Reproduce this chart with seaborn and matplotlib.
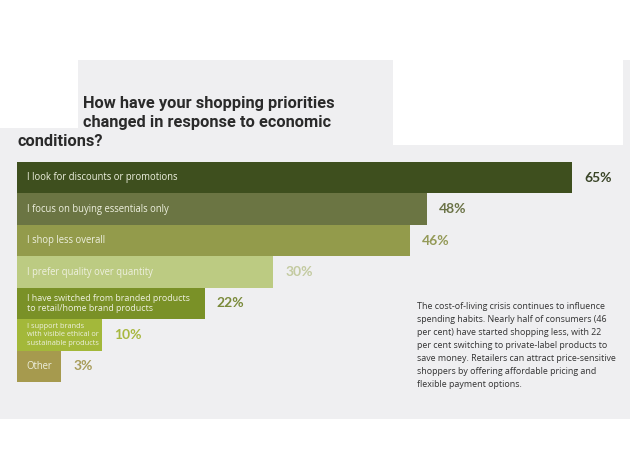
import matplotlib
matplotlib.use('Agg')
import matplotlib.pyplot as plt
import matplotlib.patches as mpatches
import numpy as np
import seaborn as sns

# data
answers = [
    'I look for discounts or promotions',
    'I focus on buying essentials only',
    'I shop less overall',
    'I prefer quality over quantity',
    'I have switched from branded products\nto retail/home brand products',
    'I support brands\nwith visible ethical or\nsustainable products',
    'Other',
]
shares = [65, 48, 46, 30, 22, 10, 3]
bar_colors = ['#3e4f1e', '#6b7543', '#939b4b', '#bccb82', '#7a9127', '#a3b83a', '#a69a4e']
pct_colors = ['#3a4528', '#6b7347', '#949a58', '#c3caa0', '#7a8a3a', '#a8b83f', '#a89c5a']

title_lines = ['How have your shopping priorities', 'changed in response to economic', 'conditions?']
note = ('The cost-of-living crisis continues to influence\n'
        'spending habits. Nearly half of consumers (46\n'
        'per cent) have started shopping less, with 22\n'
        'per cent switching to private-label products to\n'
        'save money. Retailers can attract price-sensitive\n'
        'shoppers by offering affordable pricing and\n'
        'flexible payment options.')

W, H = 630, 450
fig = plt.figure(figsize=(W / 100, H / 100), dpi=100, facecolor='white')

def px(x0, y0, w, h):
    # pixel box (top-left origin) -> figure fraction rect
    return [x0 / W, 1 - (y0 + h) / H, w / W, h / H]

# gray panel with white cut-outs
gray = '#efeff1'
for (x0, y0, w, h, c) in [(0, 60, W, 359, gray), (0, 60, 78, 68, 'white'), (393, 60, 230, 85, 'white')]:
    r = px(x0, y0, w, h)
    fig.patches.append(mpatches.Rectangle((r[0], r[1]), r[2], r[3], transform=fig.transFigure,
                                          facecolor=c, edgecolor='none', zorder=-5))

sns.set_style('white')
plt.rcParams['font.family'] = ['Open Sans', 'DejaVu Sans']

ax = fig.add_axes(px(17, 162, 598, 220))
ax.set_facecolor('none')
# narrow bars get a minimum drawn length so their labels fit (as in the original)
drawn = np.maximum(shares, 5.2)
sns.barplot(x=drawn, y=answers, hue=answers, palette=bar_colors, legend=False,
            orient='h', width=1.0, ax=ax, saturation=1, linewidth=0)
ax.set_xlim(0, 70)
ax.set_ylim(6.5, -0.5)
ax.set_xticks([])
ax.set_yticks([])
ax.set_xlabel('')
ax.set_ylabel('')
sns.despine(ax=ax, left=True, bottom=True)

for i, (lab, v, d, pc) in enumerate(zip(answers, shares, drawn, pct_colors)):
    nl = lab.count('\n')
    fs = {0: 6.85, 1: 6.4, 2: 5.3}[nl]
    ax.text(1.15, i, lab, ha='left', va='center', fontsize=fs, color='#eef0df',
            linespacing=1.25)
    ax.text(d + 1.4, i, f'{v}%', ha='left', va='center', fontsize=10,
            fontweight='bold', color=pc, family=['Lato', 'DejaVu Sans'])

for (tx, ty), line in zip([(83, 104), (83, 122), (17, 141)], title_lines):
    fig.text(tx / W, 1 - ty / H, line, fontsize=11.8, fontweight='bold', color='#2a2a2a',
             family=['Roboto', 'DejaVu Sans'], va='center')

fig.text(417 / W, 1 - 302 / H, note, fontsize=6.4, color='#333333', va='top',
         ha='left', linespacing=1.56)

fig.savefig('out.png', dpi=100, facecolor='white')
